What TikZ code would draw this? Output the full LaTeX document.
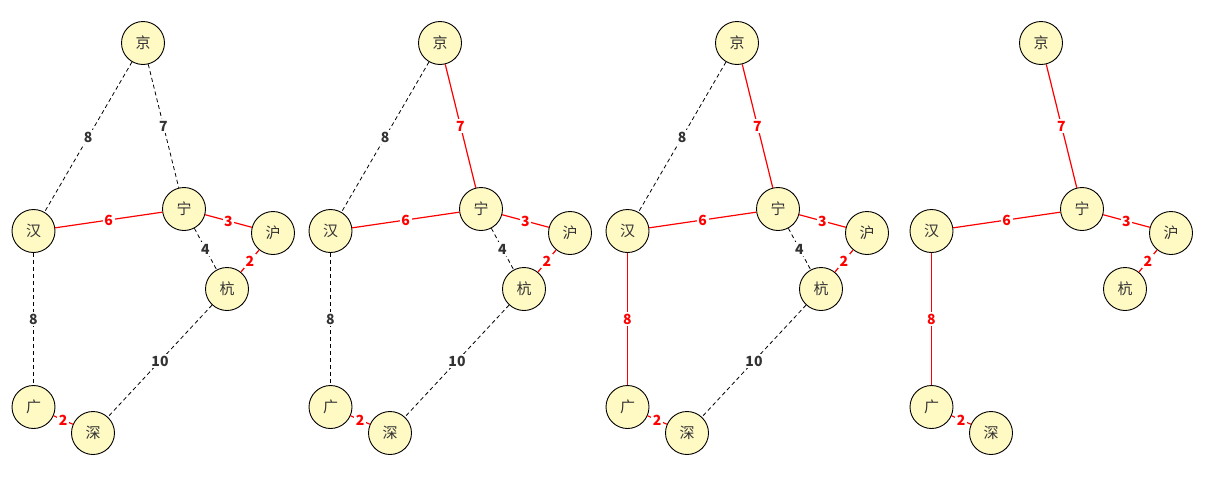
\documentclass[tikz,border=0pt]{standalone}
\usepackage{fontspec}
\setmainfont{Noto Sans CJK SC}
\definecolor{nodefill}{HTML}{FFF9C4}
\definecolor{wtgray}{HTML}{333333}
\definecolor{treered}{HTML}{FF0000}
\tikzset{
  city/.style={circle, draw=black, fill=nodefill, line width=0.9pt, minimum size=43pt,
    inner sep=0pt, text=wtgray, font=\fontsize{15}{17}\selectfont},
  wt/.style={midway, fill=white, inner sep=1.5pt, font=\fontsize{14}{16}\selectfont\bfseries},
  cand/.style={draw=black, line width=0.8pt, dash pattern=on 4pt off 3pt},
  cand label/.style={wt, text=wtgray},
  tree/.style={color=treered, line width=1.2pt},
  tree label/.style={wt, text=treered}
}
\begin{document}
\begin{tikzpicture}[x=1pt,y=-1pt]
  \useasboundingbox (0,0) rectangle (1208,477);

  % first step
  \begin{scope}[name prefix=a-]
  \node[city] (jing) at (143,43) {京};
  \node[city] (han) at (33.5,231) {汉};
  \node[city] (ning) at (184,209) {宁};
  \node[city] (hu) at (273,233) {沪};
  \node[city] (hang) at (227,289) {杭};
  \node[city] (guang) at (33.5,407) {广};
  \node[city] (shen) at (93,433) {深};
  \draw[cand] (jing) -- node[cand label] {8} (han);
  \draw[cand] (jing) -- node[cand label] {7} (ning);
  \draw[tree] (han) -- node[tree label] {6} (ning);
  \draw[tree] (ning) -- node[tree label] {3} (hu);
  \draw[cand] (ning) -- node[cand label] {4} (hang);
  \draw[tree] (hu) -- node[tree label] {2} (hang);
  \draw[cand] (han) -- node[cand label] {8} (guang);
  \draw[cand] (hang) -- node[cand label] {10} (shen);
  \draw[tree] (guang) -- node[tree label] {2} (shen);
  \end{scope}

  % second step
  \begin{scope}[name prefix=b-, xshift=297pt]
  \node[city] (jing) at (143,43) {京};
  \node[city] (han) at (33.5,231) {汉};
  \node[city] (ning) at (184,209) {宁};
  \node[city] (hu) at (273,233) {沪};
  \node[city] (hang) at (227,289) {杭};
  \node[city] (guang) at (33.5,407) {广};
  \node[city] (shen) at (93,433) {深};
  \draw[cand] (jing) -- node[cand label] {8} (han);
  \draw[tree] (jing) -- node[tree label] {7} (ning);
  \draw[tree] (han) -- node[tree label] {6} (ning);
  \draw[tree] (ning) -- node[tree label] {3} (hu);
  \draw[cand] (ning) -- node[cand label] {4} (hang);
  \draw[tree] (hu) -- node[tree label] {2} (hang);
  \draw[cand] (han) -- node[cand label] {8} (guang);
  \draw[cand] (hang) -- node[cand label] {10} (shen);
  \draw[tree] (guang) -- node[tree label] {2} (shen);
  \end{scope}

  % third step
  \begin{scope}[name prefix=c-, xshift=594pt]
  \node[city] (jing) at (143,43) {京};
  \node[city] (han) at (33.5,231) {汉};
  \node[city] (ning) at (184,209) {宁};
  \node[city] (hu) at (273,233) {沪};
  \node[city] (hang) at (227,289) {杭};
  \node[city] (guang) at (33.5,407) {广};
  \node[city] (shen) at (93,433) {深};
  \draw[cand] (jing) -- node[cand label] {8} (han);
  \draw[tree] (jing) -- node[tree label] {7} (ning);
  \draw[tree] (han) -- node[tree label] {6} (ning);
  \draw[tree] (ning) -- node[tree label] {3} (hu);
  \draw[cand] (ning) -- node[cand label] {4} (hang);
  \draw[tree] (hu) -- node[tree label] {2} (hang);
  \draw[tree] (han) -- node[tree label] {8} (guang);
  \draw[cand] (hang) -- node[cand label] {10} (shen);
  \draw[tree] (guang) -- node[tree label] {2} (shen);
  \end{scope}

  % final tree
  \begin{scope}[name prefix=d-, xshift=898pt]
  \node[city] (jing) at (143,43) {京};
  \node[city] (han) at (33.5,231) {汉};
  \node[city] (ning) at (184,209) {宁};
  \node[city] (hu) at (273,233) {沪};
  \node[city] (hang) at (227,289) {杭};
  \node[city] (guang) at (33.5,407) {广};
  \node[city] (shen) at (93,433) {深};
  \draw[tree] (jing) -- node[tree label] {7} (ning);
  \draw[tree] (han) -- node[tree label] {6} (ning);
  \draw[tree] (ning) -- node[tree label] {3} (hu);
  \draw[tree] (hu) -- node[tree label] {2} (hang);
  \draw[tree] (han) -- node[tree label] {8} (guang);
  \draw[tree] (guang) -- node[tree label] {2} (shen);
  \end{scope}
\end{tikzpicture}
\end{document}
